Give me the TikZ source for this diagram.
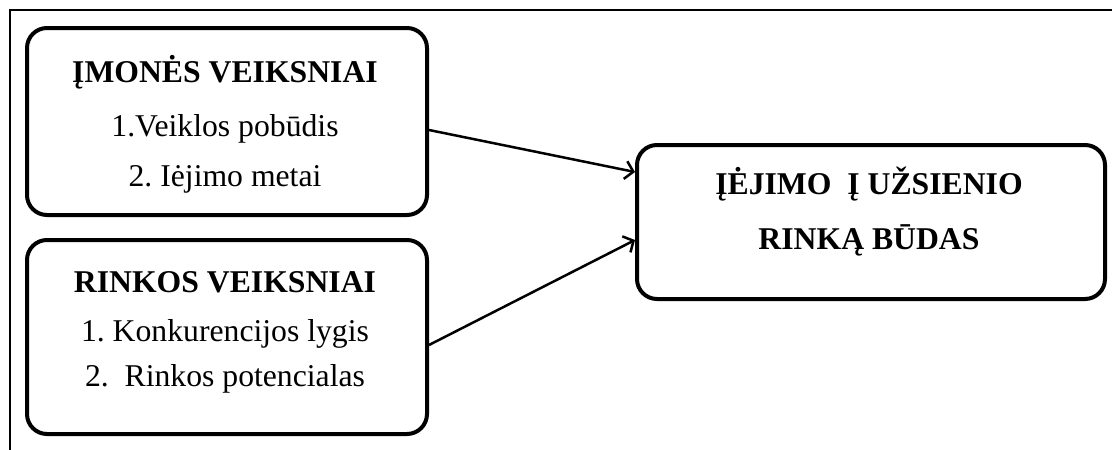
\documentclass[tikz,border=0pt]{standalone}
\usepackage{fontspec}
\setmainfont{Liberation Serif}
\usetikzlibrary{arrows.meta}
\frenchspacing
\tikzset{
  factorbox/.style={draw=black, line width=4pt, rounded corners=20pt, rectangle, inner sep=0pt, anchor=north west},
  lbl/.style={anchor=base, inner sep=0pt, font=\fontsize{31.7}{36}\selectfont},
  title/.style={lbl, font=\fontsize{31.7}{36}\selectfont\bfseries},
  conn/.style={draw=black, line width=2.5pt, -{Straight Barb[length=8pt,width=18pt,line width=2.5pt]}},
  frame/.style={draw=black, line width=2pt}
}
\begin{document}
\begin{tikzpicture}[x=1pt,y=-1pt]
\useasboundingbox (0,0) rectangle (1112,450);
% outer frame (top and left only)
\coordinate (fTL) at (10,10);
\coordinate (fTR) at (1112,10);
\coordinate (fBL) at (10,450);
\draw[frame] (fTR) -- (fTL) -- (fBL);
% boxes
\node[factorbox, minimum width=400pt, minimum height=187pt] (imone) at (25,26) {};
\node[factorbox, minimum width=400pt, minimum height=194pt] (rinka) at (25,238) {};
\node[factorbox, minimum width=468pt, minimum height=154pt] (budas) at (635,143) {};
% texts
\node[title] (t1) at (225,82) {ĮMONĖS VEIKSNIAI};
\node[lbl] (t1a) at (225,136) {1.Veiklos pobūdis};
\node[lbl] (t1b) at (225,186) {2. Iėjimo metai};
\node[title] (t2) at (225,292) {RINKOS VEIKSNIAI};
\node[lbl] (t2a) at (225,341) {1. Konkurencijos lygis};
\node[lbl] (t2b) at (225,386) {2.\ \ Rinkos potencialas};
\node[title] (t3) at (869,194) {ĮĖJIMO\ \ Į UŽSIENIO};
\node[title] (t3b) at (869,249) {RINKĄ BŪDAS};
% connectors
\coordinate (a1s) at (428,130);
\coordinate (a1e) at (633,172);
\coordinate (a2s) at (428,345);
\coordinate (a2e) at (633,240);
\draw[conn] (imone.east |- a1s) -- (budas.west |- a1e);
\draw[conn] (rinka.east |- a2s) -- (budas.west |- a2e);
\end{tikzpicture}
\end{document}
